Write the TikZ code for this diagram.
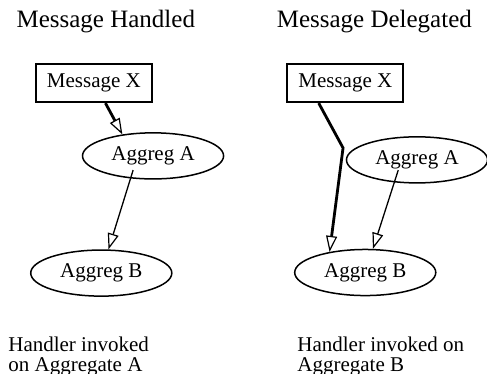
\documentclass[tikz,border=0pt]{standalone}
\usepackage{fontspec}
\setmainfont{Liberation Serif}
\usetikzlibrary{arrows.meta,shapes.geometric}

\tikzset{
  msg/.style={draw,rectangle,line width=1pt,minimum width=2.04cm,minimum height=0.67cm,inner sep=0pt},
  aggreg/.style={draw,ellipse,line width=0.75pt,minimum width=2.48cm,minimum height=0.81cm,inner sep=0pt},
  tip/.style={-{Triangle[open,length=8pt,width=5.5pt,line width=0.6pt]}},
  heavy/.style={tip,line width=1.4pt},
  light/.style={tip,line width=0.65pt},
  caption/.style={anchor=north west,align=left,inner sep=0pt},
}

\begin{document}
\begin{tikzpicture}[font=\fontsize{10.5}{10}\selectfont]
\useasboundingbox (0,0) rectangle (8.56,6.57);

% left: handled by A
\draw (1.86,6.08) node[anchor=base,font=\fontsize{12.5}{15}\selectfont](MH) {Message Handled};
\draw (1.65,5.11) node[msg](MXL) {Message X};
\draw (2.69,3.83) node[aggreg](AAL) {Aggreg A};
\draw (1.78,1.77) node[aggreg](ABL) {Aggreg B};
\draw (0.14,0.66) node[caption](HA) {Handler invoked\\on Aggregate A};

% right: A passes it on to B
\draw (6.58,6.08) node[anchor=base,font=\fontsize{12.5}{15}\selectfont](MD) {Message Delegated};
\draw (6.07,5.11) node[msg](MXR) {Message X};
\draw (7.33,3.76) node[aggreg](AAR) {Aggreg A};
\draw (6.42,1.78) node[aggreg](ABR) {Aggreg B};
\draw (5.22,0.66) node[caption](HB) {Handler invoked on\\Aggregate B};
\coordinate (bend) at (6.03,3.97);

\draw[heavy] (MXL.-60) -- (AAL.145);
\draw[light] ([shift={(-0.35,-0.25)}]AAL.center) -- (ABL.73);

\draw[heavy] (MXR.217) -- (bend) -- (ABR.150);
\draw[light] ([shift={(-0.33,-0.18)}]AAR.center) -- (ABR.72);

\end{tikzpicture}
\end{document}
